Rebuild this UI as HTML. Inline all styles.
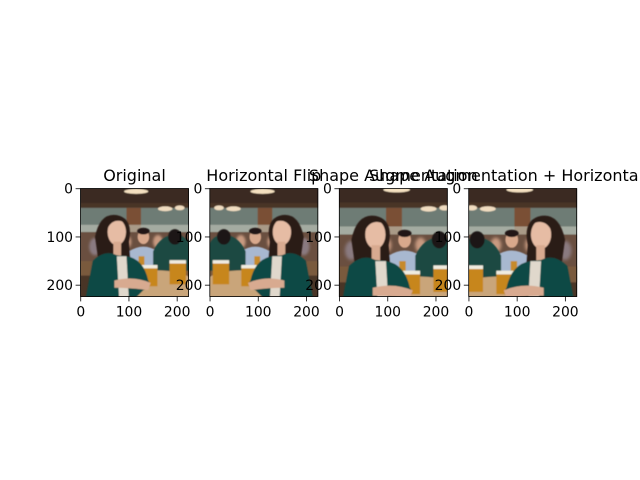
<!DOCTYPE html>
<html><head><meta charset="utf-8"><style>
body{margin:0;background:#fff}
svg{display:block;font-family:"DejaVu Sans","Liberation Sans",sans-serif}
</style></head><body>
<svg width="640" height="480" viewBox="0 0 640 480">
<defs>
<clipPath id="clip"><rect x="0" y="0" width="224" height="224"/></clipPath>
<filter id="blur"><feGaussianBlur stdDeviation="3"/></filter>
<filter id="soft"><feGaussianBlur stdDeviation="1.2"/></filter>
<g id="scene">
  <g filter="url(#soft)">
  <rect x="-5" y="-5" width="234" height="234" fill="#4a3426"/>
  <rect x="-5" y="-5" width="234" height="35" fill="#3a2a20"/>
  <rect x="-5" y="40" width="234" height="50" fill="#6e7c74"/>
  <rect x="95" y="40" width="30" height="60" fill="#7a5034"/>
  <rect x="-5" y="75" width="234" height="15" fill="#c8ccc0" opacity="0.6"/>
  <ellipse cx="115" cy="6" rx="25" ry="5" fill="#f4e0c0"/>
  <ellipse cx="175" cy="42" rx="15" ry="5" fill="#f0dcc0"/>
  <ellipse cx="205" cy="40" rx="10" ry="5" fill="#f0dcc0"/>
  <rect x="-5" y="90" width="234" height="80" fill="#6a5040"/>
  </g>
  <g filter="url(#blur)">
    <ellipse cx="95" cy="110" rx="10" ry="14" fill="#c89a80"/>
    <ellipse cx="160" cy="110" rx="10" ry="14" fill="#c89a80"/>
    <ellipse cx="30" cy="120" rx="12" ry="18" fill="#8a7a80"/>
    <ellipse cx="205" cy="125" rx="14" ry="18" fill="#b0a0a0"/>
  </g>
  <g filter="url(#soft)">
  <rect x="-5" y="150" width="234" height="30" fill="#7a5a3c"/>
  <path d="M100 130 Q130 110 160 130 L165 165 L100 165 Z" fill="#a8b8d0"/>
  <ellipse cx="130" cy="100" rx="12" ry="15" fill="#d8a88c"/>
  <ellipse cx="130" cy="88" rx="13" ry="7" fill="#201814"/>
  <path d="M150 130 Q165 95 200 95 Q224 100 230 130 L230 170 L150 170 Z" fill="#1c4a42"/>
  <ellipse cx="195" cy="100" rx="14" ry="16" fill="#1e1814"/>
  <ellipse cx="155" cy="205" rx="90" ry="36" fill="#c9a57a"/>
  <rect x="120" y="140" width="12" height="22" fill="#c68a2c"/>
  <rect x="127" y="160" width="32" height="42" fill="#c7861e"/>
  <rect x="127" y="158" width="32" height="7" fill="#f0ece0"/>
  <rect x="184" y="150" width="34" height="48" fill="#c7861e"/>
  <rect x="184" y="148" width="34" height="7" fill="#f0ece0"/>
  <path d="M30 100 Q40 50 75 55 Q110 62 100 110 L105 170 L85 160 L40 170 Z" fill="#2a1a14"/>
  <ellipse cx="75" cy="90" rx="19" ry="27" fill="#e6bca4"/>
  <path d="M57 80 Q70 58 95 72 L93 66 Q75 50 55 75 Z" fill="#2a1a14"/>
  <rect x="68" y="110" width="16" height="30" fill="#d8aa90"/>
  <path d="M10 230 L25 150 Q50 125 75 138 L95 140 Q130 145 140 190 Q150 205 130 210 L110 230 Z" fill="#0f4a44"/>
  <path d="M75 140 L95 140 L100 230 L80 230 Z" fill="#e0d8cc"/>
  <path d="M70 190 Q110 180 145 195 L140 210 Q100 205 70 205 Z" fill="#d8aa90"/>
  </g>
</g>
</defs>

<g>
  <g transform="translate(80.5,188.5) scale(0.484)"><g clip-path="url(#clip)"><use href="#scene"/></g></g>
  <rect x="80.5" y="188.5" width="108" height="108" fill="none" stroke="#000" stroke-width="0.8"/>
  <text x="134.5" y="181" text-anchor="middle" font-size="16">Original</text>
</g>
<g>
  <g transform="translate(209.8,188.5) scale(0.484)"><g clip-path="url(#clip)"><g transform="translate(224,0) scale(-1,1)"><use href="#scene"/></g></g></g>
  <rect x="209.8" y="188.5" width="108" height="108" fill="none" stroke="#000" stroke-width="0.8"/>
  <text x="263.8" y="181" text-anchor="middle" font-size="16">Horizontal Flip</text>
</g>
<g>
  <g transform="translate(339.3,188.5) scale(0.484)"><g clip-path="url(#clip)"><g transform="translate(-8,-4) scale(1.1)"><use href="#scene"/></g></g></g>
  <rect x="339.3" y="188.5" width="108" height="108" fill="none" stroke="#000" stroke-width="0.8"/>
  <text x="393.3" y="181" text-anchor="middle" font-size="16">Shape Augmentation</text>
</g>
<g>
  <g transform="translate(468.7,188.5) scale(0.484)"><g clip-path="url(#clip)"><g transform="translate(224,0) scale(-1,1)"><g transform="translate(-8,-4) scale(1.1)"><use href="#scene"/></g></g></g></g>
  <rect x="468.7" y="188.5" width="108" height="108" fill="none" stroke="#000" stroke-width="0.8"/>
  <text x="522.7" y="181" text-anchor="middle" font-size="16">Shape Augmentation + Horizontal Flip</text>
</g>

<g id="ticks" font-size="13.9"></g>
</svg>
<script>
const panelLefts=[80.5,209.8,339.3,468.7];
const tickValues=[0,100,200];
const imgSize=224, axSize=108, top0=188.5;
const ns="http://www.w3.org/2000/svg";
const g=document.getElementById('ticks');
function sx(v){return (v+0.5)*axSize/imgSize;}
panelLefts.forEach(function(left,pi){
  tickValues.forEach(function(v){
    const x=left+sx(v);
    let l=document.createElementNS(ns,'line');
    l.setAttribute('x1',x);l.setAttribute('x2',x);l.setAttribute('y1',top0+axSize);l.setAttribute('y2',top0+axSize+4.9);
    l.setAttribute('stroke','#000');l.setAttribute('stroke-width','0.8');
    
    
    g.appendChild(l);
    let t=document.createElementNS(ns,'text');
    t.setAttribute('x',x);t.setAttribute('y',top0+axSize+20);t.setAttribute('text-anchor','middle');
    t.textContent=v;
    
    
    g.appendChild(t);
    const y=top0+sx(v);
    let l2=document.createElementNS(ns,'line');
    l2.setAttribute('x1',left-4.9);l2.setAttribute('x2',left);l2.setAttribute('y1',y);l2.setAttribute('y2',y);
    l2.setAttribute('stroke','#000');l2.setAttribute('stroke-width','0.8');
    
    
    g.appendChild(l2);
    let t2=document.createElementNS(ns,'text');
    t2.setAttribute('x',left-7.5);t2.setAttribute('y',y+5);t2.setAttribute('text-anchor','end');
    t2.textContent=v;
    
    
    g.appendChild(t2);
  });
});
</script>
</body></html>
